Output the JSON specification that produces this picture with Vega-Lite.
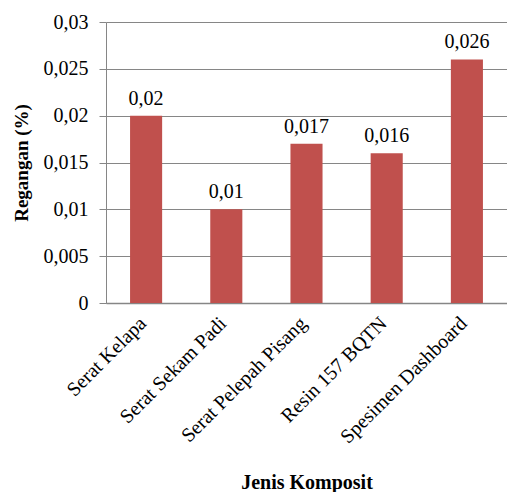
{
  "$schema": "https://vega.github.io/schema/vega-lite/v6.json",
  "autosize": "none",
  "width": 401,
  "height": 281,
  "padding": {"left": 106, "top": 22, "right": 0, "bottom": 189},
  "background": "white",
  "config": {
    "locale": {"number": {"decimal": ",", "thousands": ".", "grouping": [3], "currency": ["", ""]}},
    "font": "Liberation Serif",
    "axis": {"labelFont": "Liberation Serif", "titleFont": "Liberation Serif"},
    "text": {"font": "Liberation Serif"},
    "view": {"stroke": null}
  },
  "data": {"values": [
    {"jenis": "Serat Kelapa", "regangan": 0.02},
    {"jenis": "Serat Sekam Padi", "regangan": 0.01},
    {"jenis": "Serat Pelepah Pisang", "regangan": 0.017},
    {"jenis": "Resin 157 BQTN", "regangan": 0.016},
    {"jenis": "Spesimen Dashboard", "regangan": 0.026}
  ]},
  "encoding": {
    "x": {
      "field": "jenis", "type": "nominal", "sort": null,
      "scale": {"paddingInner": 0.6, "paddingOuter": 0.3},
      "axis": {
        "title": "Jenis Komposit", "titleFont": "Liberation Serif", "titleFontSize": 20, "titleFontWeight": "bold", "titleColor": "black", "titlePadding": 26,
        "labelAngle": -45, "labelAlign": "right", "labelBaseline": "middle", "labelFont": "Liberation Serif", "labelFontSize": 20, "labelColor": "black", "labelPadding": 17, "labelOffset": -3, "labelOverlap": false,
        "ticks": false, "domainColor": "#868686", "domainWidth": 1.5, "grid": false
      }
    },
    "y": {
      "field": "regangan", "type": "quantitative",
      "scale": {"domain": [0, 0.03], "nice": false},
      "axis": {
        "title": "Regangan (%)", "titleFont": "Liberation Serif", "titleFontSize": 19, "titleFontWeight": "bold", "titleColor": "black", "titlePadding": 12,
        "values": [0, 0.005, 0.01, 0.015, 0.02, 0.025, 0.03], "format": ".3~f",
        "labelFont": "Liberation Serif", "labelFontSize": 20, "labelColor": "black", "labelPadding": 11,
        "tickSize": 7, "tickColor": "#868686", "domainColor": "#868686", "domainWidth": 1,
        "grid": true, "gridColor": "#868686", "gridWidth": 1
      }
    }
  },
  "layer": [
    {"mark": {"type": "bar", "color": "#C0504D"}},
    {"mark": {"type": "text", "dy": -17, "fontSize": 20, "font": "Liberation Serif", "color": "black", "baseline": "middle"},
     "encoding": {"text": {"field": "regangan", "type": "quantitative", "format": ".3~f"}}}
  ]
}
